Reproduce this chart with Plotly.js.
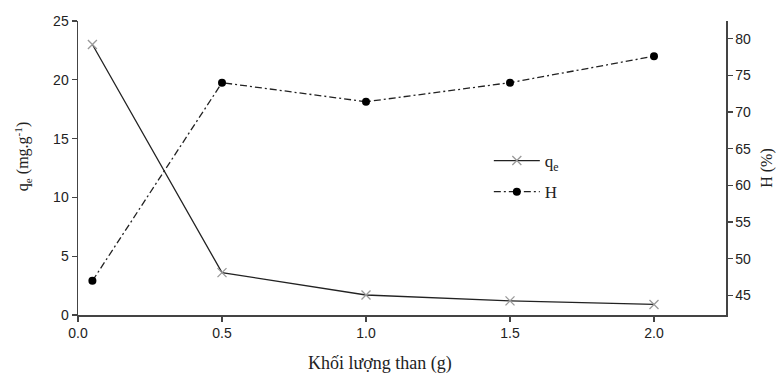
<!DOCTYPE html>
<html>
<head>
<meta charset="utf-8">
<script src="https://cdn.plot.ly/plotly-3.0.1.min.js"></script>
<style>html,body{margin:0;padding:0;background:#fff;}#chart{width:782px;height:378px;}</style>
</head>
<body>
<div id="chart"></div>
<script>
const mass = [0.05, 0.5, 1.0, 1.5, 2.0];
const qe = [23.0, 3.6, 1.7, 1.2, 0.9];
const H = [47.0, 74.0, 71.4, 74.0, 77.6];
const xTitle = 'Khối lượng than (g)';
const yTitle = 'q<sub>e</sub> (mg.g<sup>-1</sup>)';
const y2Title = 'H (%)';

const serif = 'Liberation Serif, DejaVu Serif, serif';
const sans = 'Liberation Sans, Arial, sans-serif';

const traces = [
  {
    x: mass, y: qe, name: 'q<sub>e</sub>', type: 'scatter', mode: 'lines+markers',
    legendgroup: 'a',
    line: {color: '#222', width: 1.3},
    marker: {symbol: 'x-thin', size: 9, color: '#999', line: {color: '#999', width: 1.3}},
    yaxis: 'y'
  },
  {
    x: mass, y: H, name: 'H', type: 'scatter', mode: 'lines+markers',
    legendgroup: 'b',
    line: {color: '#222', width: 1.3, dash: '7px,3px,2px,3px'},
    marker: {symbol: 'circle', size: 8, color: '#000'},
    yaxis: 'y2'
  }
];

const layout = {
  width: 782, height: 378,
  margin: {l: 78, r: 56, t: 21, b: 63},
  paper_bgcolor: '#fff', plot_bgcolor: '#fff',
  showlegend: true,
  legend: {x: 0.634, y: 0.585, xanchor: 'left', yanchor: 'top', itemwidth: 46,
    font: {family: serif, size: 17, color: '#222'}, bgcolor: 'rgba(0,0,0,0)', tracegroupgap: 6},
  xaxis: {
    range: [0, 2.25], dtick: 0.5, tick0: 0, tickformat: '.1f',
    showline: true, linecolor: '#444', linewidth: 1.5, mirror: false,
    ticks: 'outside', ticklen: 5, tickcolor: '#444', tickwidth: 1.3,
    showgrid: false, zeroline: false,
    tickfont: {family: sans, size: 14, color: '#222'}
  },
  yaxis: {
    range: [0, 25], dtick: 5,
    showline: true, linecolor: '#444', linewidth: 1.5,
    ticks: 'outside', ticklen: 5, tickcolor: '#444', tickwidth: 1.3,
    showgrid: false, zeroline: false,
    tickfont: {family: sans, size: 14, color: '#222'}
  },
  yaxis2: {
    range: [42.35, 82.4], dtick: 5, tick0: 0, overlaying: 'y', side: 'right',
    showline: true, linecolor: '#444', linewidth: 1.5,
    ticks: 'outside', ticklen: 5, tickcolor: '#444', tickwidth: 1.3,
    showgrid: false, zeroline: false,
    tickfont: {family: sans, size: 14, color: '#222'},
    title: {text: y2Title, font: {family: serif, size: 16, color: '#222'}, standoff: 10}
  },
  annotations: [
    {text: xTitle, xref: 'paper', yref: 'paper', x: 0.466, y: -0.165, xanchor: 'center', yanchor: 'middle',
     showarrow: false, font: {family: serif, size: 18, color: '#222'}},
    {text: yTitle, xref: 'paper', yref: 'paper', x: -0.085, y: 0.54, xanchor: 'center', yanchor: 'middle',
     textangle: -90, showarrow: false, font: {family: serif, size: 16, color: '#222'}}
  ]
};

Plotly.newPlot('chart', traces, layout, {displayModeBar: false, staticPlot: true});
</script>
</body>
</html>
